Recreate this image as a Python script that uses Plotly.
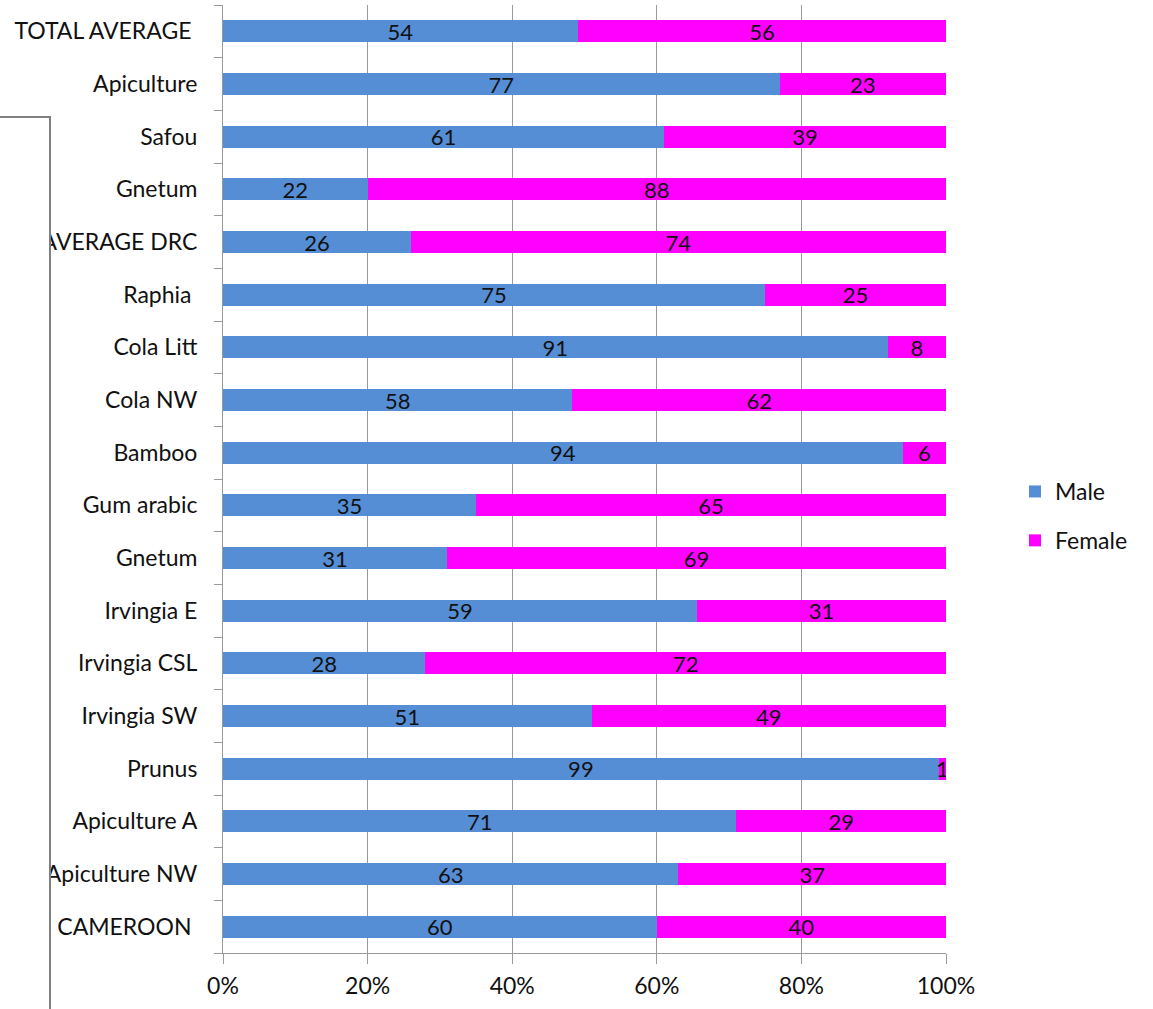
import plotly.graph_objects as go

# ---- data (top to bottom as shown) ----
categories = [
    "TOTAL AVERAGE\u00a0", "Apiculture", "Safou", "Gnetum", "AVERAGE DRC",
    "Raphia\u00a0", "Cola Litt", "Cola NW", "Bamboo", "Gum arabic", "Gnetum",
    "Irvingia E", "Irvingia CSL", "Irvingia SW", "Prunus", "Apiculture A",
    "Apiculture NW", "AVERAGE CAMEROON\u00a0",
]
male = [54, 77, 61, 22, 26, 75, 91, 58, 94, 35, 31, 59, 28, 51, 99, 71, 63, 60]
female = [56, 23, 39, 88, 74, 25, 8, 62, 6, 65, 69, 31, 72, 49, 1, 29, 37, 40]
x_tick_vals = [0, 20, 40, 60, 80, 100]
x_tick_labels = ["0%", "20%", "40%", "60%", "80%", "100%"]

positions = list(range(len(categories)))
n = len(categories)

BLUE = "#558ED5"
MAGENTA = "#FF00FF"
GRID = "#9a9a9a"
FONT = "Lato"
TXT = "#111111"

fig = go.Figure()
for name, vals, col in [("Male", male, BLUE), ("Female", female, MAGENTA)]:
    fig.add_bar(
        y=positions, x=vals, orientation="h", name=name,
        legendgroup=name,
        marker=dict(color=col, line=dict(width=0)),
        text=[str(v) for v in vals], textposition="inside", textangle=0,
        insidetextanchor="middle", constraintext="none",
        textfont=dict(family=FONT, size=22, color=TXT),
        hoverinfo="skip",
    )

W, H = 1153, 1009
ML, MR, MT, MB = 223, 207, 5, 56
pw, ph = W - ML - MR, H - MT - MB


def px_x(p):
    return (p - ML) / pw


def px_y(p):
    return (H - MB - p) / ph


fig.update_layout(
    width=W, height=H,
    margin=dict(l=ML, r=MR, t=MT, b=MB, pad=0, autoexpand=False),
    barmode="stack", barnorm="percent", bargap=0.58,
    paper_bgcolor="white", plot_bgcolor="white",
    font=dict(family=FONT, color=TXT),
    showlegend=True,
    legend=dict(
        x=px_x(1015), xanchor="left",
        y=px_y(516), yanchor="middle",
        traceorder="grouped", tracegroupgap=16,
        font=dict(family=FONT, size=23, color=TXT),
        bgcolor="rgba(0,0,0,0)", borderwidth=0,
    ),
    xaxis=dict(
        range=[0, 100], tickmode="array", tickvals=x_tick_vals,
        ticktext=x_tick_labels,
        showgrid=True, gridcolor=GRID, gridwidth=1,
        showline=True, linecolor=GRID, linewidth=1,
        ticks="outside", ticklen=10, tickcolor=GRID,
        zeroline=False, fixedrange=True, automargin=False,
        tickfont=dict(family=FONT, size=23, color=TXT),
        ticklabelstandoff=2,
    ),
    yaxis=dict(
        range=[n - 0.5, -0.5], tickmode="array", tickvals=positions,
        ticktext=categories,
        showgrid=False, zeroline=False,
        showline=True, linecolor=GRID, linewidth=1,
        ticks="",
        minor=dict(tickmode="linear", tick0=0.5, dtick=1, ticks="outside",
                   ticklen=8, tickcolor=GRID, showgrid=False),
        tickfont=dict(family=FONT, size=23, color=TXT),
        ticklabelstandoff=20, automargin=False,
        fixedrange=True,
    ),
    shapes=[
        dict(type="rect", xref="paper", yref="paper",
             x0=px_x(-30), x1=px_x(50), y0=px_y(1040), y1=px_y(117),
             fillcolor="white", line=dict(color="#808080", width=2),
             layer="above"),
    ],
)

fig.write_html("out.html")
